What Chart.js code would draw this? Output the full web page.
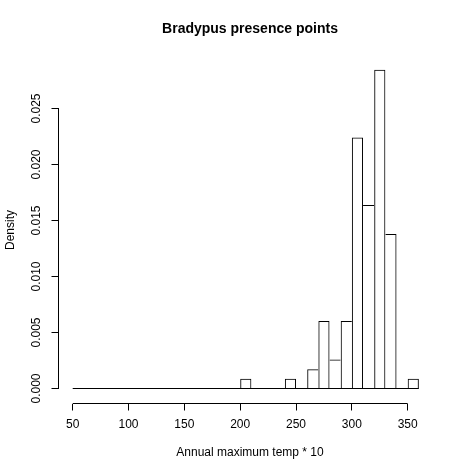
<!DOCTYPE html>
<html><head><meta charset="utf-8">
<script src="https://cdn.jsdelivr.net/npm/chart.js@4/dist/chart.umd.min.js"></script>
<style>html,body{margin:0;padding:0;background:#fff}#wrap{width:474px;height:474px}</style>
</head><body><div id="wrap"><canvas id="c" width="474" height="474"></canvas></div>
<script>
// ---- data ----
const binStarts = [50,60,70,80,90,100,110,120,130,140,150,160,170,180,190,
                   200,210,220,230,240,250,260,270,280,290,300,310,320,330,340,350];
const binWidth = 10;
const densities = [0,0,0,0,0,0,0,0,0,0,0,0,0,0,0,
                   0.00086,0,0,0,0.00086,0,0.00172,0.00603,0.00259,0.00603,
                   0.02241,0.01638,0.02845,0.01379,0,0.00086];
const xTicks = [50,100,150,200,250,300,350];
const yTicks = [0,0.005,0.010,0.015,0.020,0.025];
const chartTitle = 'Bradypus presence points';
const xTitle = 'Annual maximum temp * 10';
const yTitle = 'Density';

// ---- options ----
const xMin = 37.28, xMax = 380.27;
const yMin = -0.001339, yMax = 0.029643;
const FONT = "'Liberation Sans', Arial, Helvetica, sans-serif";
Chart.defaults.color = '#000';
Chart.defaults.font.family = FONT;

const bars = binStarts.map((s, i) => ({x: s + binWidth / 2, y: densities[i]}));
const lastEdge = binStarts[binStarts.length - 1] + binWidth;

function barBorder(ctx) {
  if (ctx.type !== 'data') return 1;
  const d = ctx.dataset.data, i = ctx.dataIndex;
  const h = d[i].y;
  if (!h) return 0;
  const prev = i > 0 ? d[i - 1].y : 0;
  const next = i < d.length - 1 ? d[i + 1].y : 0;
  return {top: 1, bottom: 0, left: h >= prev ? 1 : 0, right: h > next ? 1 : 0};
}

new Chart(document.getElementById('c'), {
  type: 'bar',
  data: {datasets: [
    {type: 'bar', data: bars, backgroundColor: 'rgba(0,0,0,0)', borderColor: '#000',
     borderWidth: barBorder, borderSkipped: false, inflateAmount: 0,
     barPercentage: 1, categoryPercentage: 1, order: 2},
    {type: 'line', data: [{x: binStarts[0], y: 0}, {x: lastEdge, y: 0}],
     borderColor: '#000', borderWidth: 1, pointRadius: 0, fill: false, order: 1},
    {type: 'line', data: [{x: xMin, y: yTicks[0]}, {x: xMin, y: yTicks[yTicks.length - 1]}],
     borderColor: '#000', borderWidth: 1, pointRadius: 0, fill: false, clip: false, order: 0},
    {type: 'line', data: [{x: xTicks[0], y: yMin}, {x: xTicks[xTicks.length - 1], y: yMin}],
     borderColor: '#000', borderWidth: 1, pointRadius: 0, fill: false, clip: false, order: 0}
  ]},
  options: {
    responsive: false,
    animation: false,
    devicePixelRatio: 1,
    layout: {padding: {left: 0, right: 32.5, top: 0, bottom: 0}},
    plugins: {
      legend: {display: false},
      tooltip: {enabled: false},
      title: {display: true, text: chartTitle, fullSize: false, color: '#000',
              font: {size: 14, weight: 'bold', family: FONT},
              padding: {top: 21, bottom: 18.7}}
    },
    scales: {
      x: {
        type: 'linear', min: xMin, max: xMax, offset: false,
        grid: {display: true, offset: false, drawOnChartArea: false, drawTicks: true,
               tickLength: 7, color: '#000', lineWidth: 1},
        border: {display: false},
        afterBuildTicks: s => { s.ticks = xTicks.map(v => ({value: v})); },
        afterFit: s => { s.height = 70.5; },
        ticks: {color: '#000', font: {size: 12}, padding: 7, maxRotation: 0, minRotation: 0,
                autoSkip: false, callback: v => String(v)},
        title: {display: true, text: xTitle, color: '#000', font: {size: 12},
                padding: {top: 0, bottom: 14}}
      },
      y: {
        type: 'linear', min: yMin, max: yMax,
        grid: {display: true, drawOnChartArea: false, drawTicks: true,
               tickLength: 7, color: '#000', lineWidth: 1},
        border: {display: false},
        afterBuildTicks: s => { s.ticks = yTicks.map(v => ({value: v})); },
        afterFit: s => { s.width = 58.5; },
        ticks: {color: '#000', font: {size: 12}, padding: 0, minRotation: 90, maxRotation: 90,
                crossAlign: 'center', autoSkip: false, callback: v => v.toFixed(3)},
        title: {display: true, text: yTitle, color: '#000', font: {size: 12},
                padding: {top: 3, bottom: 0}}
      }
    }
  }
});
</script></body></html>
